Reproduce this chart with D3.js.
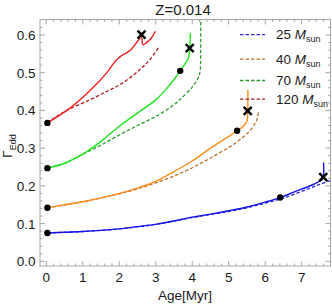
<!DOCTYPE html>
<html>
  <head>
    <script src="https://d3js.org/d3.v7.min.js"></script>
    <style>
      body { margin: 0; background: #fff; }
      svg { font-family: "Liberation Sans", Arial, sans-serif; }
      .frame { fill: none; stroke: #a6a6a6; stroke-width: 1; }
      .tick { stroke: #a6a6a6; stroke-width: 1; }
      .ticklabel { font-size: 13.5px; fill: #1a1a1a; }
    </style>
  </head>
  <body>
    <svg width="332" height="305"></svg>
    <script>
      // tracks: age [Myr] and Eddington factor, solid = one model, dashed = other
      var age25 = [0.03, 0.5, 1.0, 1.5, 2.0, 2.5, 3.0, 3.5, 4.0, 4.5, 5.0, 5.5, 6.0, 6.41, 6.8, 7.2, 7.45, 7.55, 7.59, 7.6];
      var gam25 = [0.075, 0.077, 0.079, 0.082, 0.086, 0.092, 0.098, 0.107, 0.117, 0.125, 0.134, 0.144, 0.157, 0.169, 0.184, 0.199, 0.210, 0.216, 0.223, 0.262];
      var age25d = [0.03, 1.0, 2.0, 3.0, 4.0, 5.0, 5.5, 6.0, 6.41, 6.8, 7.2, 7.5, 7.8];
      var gam25d = [0.075, 0.079, 0.086, 0.098, 0.116, 0.132, 0.142, 0.154, 0.165, 0.178, 0.193, 0.204, 0.215];

      var age40 = [0.03, 0.5, 1.0, 1.5, 2.0, 2.5, 3.0, 3.5, 4.0, 4.5, 5.0, 5.23, 5.4, 5.5, 5.52, 5.525];
      var gam40 = [0.142, 0.150, 0.158, 0.168, 0.180, 0.194, 0.212, 0.238, 0.266, 0.300, 0.331, 0.346, 0.358, 0.372, 0.400, 0.455];
      var age40d = [0.03, 1.0, 2.0, 2.5, 3.0, 3.5, 4.0, 4.5, 5.0, 5.3, 5.57, 5.7, 5.78, 5.81];
      var gam40d = [0.142, 0.158, 0.179, 0.192, 0.208, 0.226, 0.248, 0.274, 0.302, 0.322, 0.345, 0.362, 0.378, 0.395];

      var age70 = [0.03, 0.5, 1.0, 1.5, 2.0, 2.5, 3.0, 3.3, 3.5, 3.67, 3.82, 3.9, 3.93, 3.95];
      var gam70 = [0.247, 0.260, 0.284, 0.318, 0.358, 0.393, 0.428, 0.458, 0.482, 0.505, 0.526, 0.540, 0.565, 0.605];
      var age70d = [0.03, 0.5, 1.0, 1.5, 2.0, 2.5, 3.0, 3.5, 3.65, 4.0, 4.18, 4.22, 4.23, 4.235];
      var gam70d = [0.247, 0.260, 0.284, 0.308, 0.335, 0.360, 0.384, 0.415, 0.428, 0.462, 0.490, 0.508, 0.550, 0.660];

      var age120 = [0.03, 0.65, 1.19, 1.65, 1.92, 2.06, 2.29, 2.56, 2.61, 2.65, 2.74, 2.88, 2.99];
      var gam120 = [0.367, 0.406, 0.452, 0.499, 0.534, 0.545, 0.559, 0.592, 0.601, 0.574, 0.579, 0.592, 0.610];
      var age120d = [0.03, 0.3, 0.56, 1.19, 1.65, 2.10, 2.56, 2.83, 3.09];
      var gam120d = [0.367, 0.385, 0.400, 0.428, 0.450, 0.473, 0.508, 0.534, 0.568];

      // markers
      var dotAge = [0.03, 0.03, 0.03, 0.03, 6.41, 5.23, 3.67];
      var dotGam = [0.075, 0.142, 0.247, 0.367, 0.169, 0.346, 0.505];
      var crossAge = [7.59, 5.52, 3.93, 2.61];
      var crossGam = [0.223, 0.399, 0.565, 0.601];

      var masses = ["25", "40", "70", "120"];
      var solidColors = ["#1414e6", "#ff8c1a", "#1ee61e", "#f01e1e"];
      var dashColors = ["#2a2ad0", "#b8702e", "#2c9a2c", "#b42020"];

      var xTicks = [0, 1, 2, 3, 4, 5, 6, 7];
      var yTicks = [0.0, 0.1, 0.2, 0.3, 0.4, 0.5, 0.6];

      var svg = d3.select("svg");
      var pLeft = 40, pRight = 330.5, pTop = 19.5, pBottom = 266;

      var x = d3.scaleLinear().domain([0, 7]).range([46.3, 301.7]);
      var y = d3.scaleLinear().domain([0, 0.6]).range([261.3, 35]);

      svg.append("clipPath").attr("id", "clip")
        .append("rect").attr("x", pLeft).attr("y", pTop)
        .attr("width", pRight - pLeft).attr("height", pBottom - pTop);

      // ticks on all four sides
      var xMinor = d3.range(0, 7.8, 0.2).filter(function(d) { return x(d) <= pRight; });
      var yMinor = d3.range(0, 0.64, 0.02);
      xMinor.forEach(function(d) {
        var major = Math.abs(d - Math.round(d)) < 1e-6;
        var len = major ? 5 : 2.5;
        svg.append("line").attr("class", "tick").attr("x1", x(d)).attr("x2", x(d)).attr("y1", pBottom).attr("y2", pBottom - len);
        svg.append("line").attr("class", "tick").attr("x1", x(d)).attr("x2", x(d)).attr("y1", pTop).attr("y2", pTop + len);
      });
      yMinor.forEach(function(d) {
        var major = Math.abs(d * 10 - Math.round(d * 10)) < 1e-6;
        var len = major ? 5 : 2.5;
        svg.append("line").attr("class", "tick").attr("y1", y(d)).attr("y2", y(d)).attr("x1", pLeft).attr("x2", pLeft + len);
        svg.append("line").attr("class", "tick").attr("y1", y(d)).attr("y2", y(d)).attr("x1", pRight).attr("x2", pRight - len);
      });

      svg.append("rect").attr("class", "frame")
        .attr("x", pLeft).attr("y", pTop).attr("width", pRight - pLeft).attr("height", pBottom - pTop);

      svg.selectAll(".xl").data(xTicks).enter().append("text")
        .attr("class", "ticklabel").attr("x", function(d) { return x(d); }).attr("y", 281.5)
        .attr("text-anchor", "middle").text(function(d) { return d; });
      svg.selectAll(".yl").data(yTicks).enter().append("text")
        .attr("class", "ticklabel").attr("x", 35.5).attr("y", function(d) { return y(d) + 5; })
        .attr("text-anchor", "end").text(function(d) { return d.toFixed(1); });

      // axis titles
      svg.append("text").attr("x", 185).attr("y", 299.5).attr("text-anchor", "middle")
        .style("font-size", "13.5px").attr("fill", "#1a1a1a").text("Age[Myr]");
      var yl = svg.append("text").attr("transform", "translate(12,146) rotate(-90)")
        .attr("text-anchor", "middle").style("font-size", "13.5px").attr("fill", "#1a1a1a");
      yl.append("tspan").text("Γ");
      yl.append("tspan").attr("dy", 3.5).style("font-size", "9px").text("Edd");

      svg.append("text").attr("x", 183).attr("y", 14.5).attr("text-anchor", "middle")
        .style("font-size", "15px").attr("fill", "#1a1a1a").text("Z=0.014");

      // tracks
      var tracks = [
        [age25, gam25, age25d, gam25d],
        [age40, gam40, age40d, gam40d],
        [age70, gam70, age70d, gam70d],
        [age120, gam120, age120d, gam120d]
      ];
      var line = d3.line()
        .x(function(d) { return x(d[0]); })
        .y(function(d) { return y(d[1]); })
        .curve(d3.curveCatmullRom.alpha(0.5));

      var plot = svg.append("g").attr("clip-path", "url(#clip)");
      tracks.forEach(function(t, i) {
        plot.append("path").datum(d3.zip(t[2], t[3]))
          .attr("d", line).attr("fill", "none")
          .attr("stroke", dashColors[i]).attr("stroke-width", 1.3)
          .attr("stroke-dasharray", "3.5,2");
        plot.append("path").datum(d3.zip(t[0], t[1]))
          .attr("d", line).attr("fill", "none")
          .attr("stroke", solidColors[i]).attr("stroke-width", 1.4);
      });

      plot.selectAll(".dot").data(d3.zip(dotAge, dotGam)).enter().append("circle")
        .attr("cx", function(d) { return x(d[0]); }).attr("cy", function(d) { return y(d[1]); })
        .attr("r", 3.2).attr("fill", "#000");

      plot.selectAll(".cross").data(d3.zip(crossAge, crossGam)).enter().append("path")
        .attr("transform", function(d) { return "translate(" + x(d[0]) + "," + y(d[1]) + ")"; })
        .attr("d", "M-4,-4L4,4M-4,4L4,-4")
        .attr("stroke", "#000").attr("stroke-width", 2.4);

      // legend
      var legY = [34.7, 59.2, 80.5, 99.2];
      masses.forEach(function(m, i) {
        svg.append("line").attr("x1", 240).attr("x2", 265)
          .attr("y1", legY[i]).attr("y2", legY[i])
          .attr("stroke", dashColors[i]).attr("stroke-width", 1.3)
          .attr("stroke-dasharray", "3.5,2");
        var t = svg.append("text").attr("x", 276).attr("y", legY[i] + 4.5)
          .style("font-size", "13.5px").attr("fill", "#1a1a1a");
        t.append("tspan").text(m + " ");
        t.append("tspan").style("font-style", "italic").text("M");
        t.append("tspan").attr("dy", 3).style("font-size", "9px").text("sun");
      });
    </script>
  </body>
</html>
